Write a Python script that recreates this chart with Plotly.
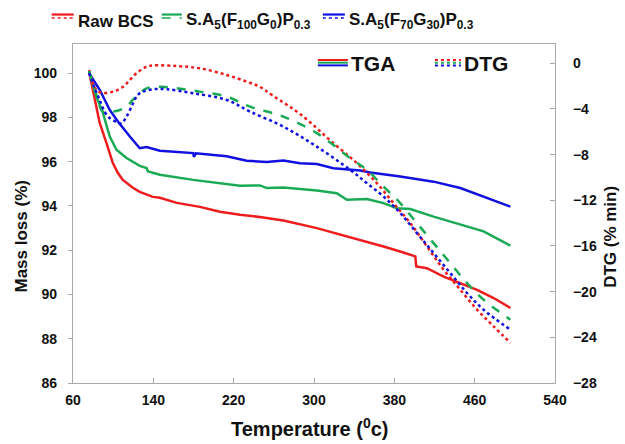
import plotly.graph_objects as go

# ---------------- data ----------------
# TGA (mass loss %, left axis)
tga_raw_T = [76, 81.6, 86.6, 93.3, 99.6, 104.6, 109.6, 119.6, 126.5, 139.5, 146.5, 163.4, 186.4, 206.3, 226.3, 246.2,
             269.5, 302.8, 336.1, 352.7, 369.2, 385.9, 400.9, 401.8, 412.5, 429.1, 445.7, 462.4, 478.9, 495.6]
tga_raw_M = [100.07, 98.8, 97.75, 96.85, 95.95, 95.5, 95.18, 94.82, 94.64, 94.41, 94.37, 94.14, 93.96, 93.74, 93.6, 93.5,
             93.34, 93.0, 92.59, 92.39, 92.17, 91.94, 91.72, 91.27, 91.19, 90.81, 90.51, 90.21, 89.84, 89.39]

tga_g0_T = [76, 83.3, 89.9, 96.6, 103.3, 113.3, 126.5, 133.2, 134.8, 146.5, 179.7, 213, 226.3, 246.2, 252.9, 269.5,
            302.8, 322.7, 332.7, 352.7, 369.2, 382.6, 395.9, 419.1, 442.4, 468.9, 495.6]
tga_g0_M = [100.07, 98.94, 98.2, 97.14, 96.54, 96.17, 95.81, 95.71, 95.56, 95.41, 95.18, 95.0, 94.91, 94.93, 94.81, 94.83,
            94.7, 94.58, 94.28, 94.31, 94.13, 93.9, 93.86, 93.52, 93.22, 92.85, 92.21]

tga_g30_T = [76, 86.6, 96.6, 104.9, 116.6, 126.5, 133.2, 146.5, 179.7, 180.4, 182.4, 213, 233, 246.2, 252.9, 269.5,
             286.1, 302.8, 319.4, 346, 356, 385.9, 419.1, 445.7, 468.9, 495.6]
tga_g30_M = [100.0, 99.25, 98.34, 97.81, 97.14, 96.61, 96.66, 96.5, 96.39, 96.22, 96.38, 96.25, 96.04, 95.99, 95.99, 96.05,
             95.93, 95.9, 95.71, 95.6, 95.51, 95.33, 95.1, 94.81, 94.43, 93.97]

# DTG (% min, right axis)
dtg_raw_T = [76, 83.3, 89.9, 99.9, 109.9, 116.6, 123.2, 133.2, 139.8, 163.1, 186.4, 213, 233, 246.2, 259.5, 286.1,
             319.4, 342.7, 362.6, 379.2, 395.9, 412.5, 429.1, 445.7, 462.4, 478.9, 495.6]
dtg_raw_D = [-0.59, -2.34, -2.6, -2.48, -2.05, -1.46, -0.87, -0.3, -0.19, -0.24, -0.44, -1.02, -1.61, -2.07, -2.86, -4.44,
             -7.0, -8.75, -10.5, -12.25, -14.0, -16.05, -18.08, -19.83, -21.58, -23.04, -24.5]

dtg_g0_T = [76, 83.3, 89.9, 99.9, 106.6, 113.3, 119.6, 126.5, 133.2, 146.5, 163.1, 186.4, 213, 236.3, 269.5, 302.8,
            336.1, 352.7, 369.2, 385.9, 402.5, 419.1, 435.7, 452.4, 468.9, 495.6]
dtg_g0_D = [-0.67, -2.77, -4.26, -4.23, -4.09, -3.8, -3.21, -2.62, -2.19, -2.05, -2.19, -2.48, -2.92, -3.8, -4.67, -6.12,
            -8.31, -9.34, -10.8, -12.25, -14.0, -15.75, -17.5, -19.25, -20.71, -22.46]

dtg_g30_T = [76, 81.6, 86.6, 91.6, 96.6, 103.3, 108.3, 113.3, 119.9, 124.5, 129.8, 139.8, 153.2, 179.7, 213, 236.3,
             269.5, 302.8, 336.1, 352.7, 369.2, 385.9, 402.5, 419.1, 435.7, 452.4, 468.9, 495.6]
dtg_g30_D = [-0.85, -2.16, -3.21, -4.26, -4.79, -5.14, -5.25, -4.67, -3.5, -2.77, -2.48, -2.27, -2.27, -2.62, -3.21, -4.23,
             -5.55, -7.3, -9.34, -10.5, -11.67, -13.12, -14.87, -16.62, -18.37, -20.12, -21.58, -23.33]

x_ticks = [60, 140, 220, 300, 380, 460, 540]
y_left_ticks = [86, 88, 90, 92, 94, 96, 98, 100]
y_right_ticks = [-28, -24, -20, -16, -12, -8, -4, 0]

series_names = ["Raw BCS", "S.A<sub>5</sub>(F<sub>100</sub>G<sub>0</sub>)P<sub>0.3</sub>",
                "S.A<sub>5</sub>(F<sub>70</sub>G<sub>30</sub>)P<sub>0.3</sub>"]

# ---------------- style ----------------
RED = "#ee1c1c"
GREEN = "#1aaa55"
BLUE = "#1010e0"
AX = "#a8a8a8"
W, H = 625, 444
L, R, T, B = 73.3, 555.0, 44.0, 383.3  # plot area in pixels


def px(x):
    return (x - L) / (R - L)


def py(y):
    return (B - y) / (B - T)


fig = go.Figure()
lw = 2.5
fig.add_trace(go.Scatter(x=tga_raw_T, y=tga_raw_M, mode="lines", line=dict(color=RED, width=lw), yaxis="y"))
fig.add_trace(go.Scatter(x=tga_g0_T, y=tga_g0_M, mode="lines", line=dict(color=GREEN, width=lw), yaxis="y"))
fig.add_trace(go.Scatter(x=tga_g30_T, y=tga_g30_M, mode="lines", line=dict(color=BLUE, width=lw), yaxis="y"))
fig.add_trace(go.Scatter(x=dtg_raw_T, y=dtg_raw_D, mode="lines", line=dict(color=RED, width=lw, dash="dot", shape="spline"), yaxis="y2"))
fig.add_trace(go.Scatter(x=dtg_g0_T, y=dtg_g0_D, mode="lines", line=dict(color=GREEN, width=lw, dash="dash", shape="spline"), yaxis="y2"))
fig.add_trace(go.Scatter(x=dtg_g30_T, y=dtg_g30_D, mode="lines", line=dict(color=BLUE, width=lw, dash="dot", shape="spline"), yaxis="y2"))

tickfont = dict(family="Arial, Liberation Sans", size=14, color="#111111", weight="bold")

fig.update_layout(
    width=W, height=H,
    margin=dict(l=L, r=W - R, t=T, b=H - B, pad=0, autoexpand=False),
    paper_bgcolor="white", plot_bgcolor="white",
    showlegend=False,
    xaxis=dict(range=[60, 540], tickvals=x_ticks, showgrid=False, zeroline=False,
               showline=True, linecolor=AX, linewidth=1.3, mirror=True,
               ticks="inside", ticklen=5, tickcolor=AX, tickfont=tickfont, ticklabelstandoff=4),
    yaxis=dict(range=[86, 101.32], tickvals=y_left_ticks, showgrid=False, zeroline=False,
               showline=True, linecolor=AX, linewidth=1.3, mirror=True,
               ticks="outside", ticklen=4, tickcolor=AX, tickfont=tickfont, ticklabelstandoff=8),
    yaxis2=dict(range=[-28, 1.69], tickvals=y_right_ticks, overlaying="y", side="right",
                showgrid=False, zeroline=False, showline=True, linecolor=AX, linewidth=1.3,
                ticks="inside", ticklen=5, tickcolor=AX, tickfont=tickfont, ticklabelstandoff=14),
)

font_b = dict(family="Arial, Liberation Sans", color="#111111", weight="bold")

# axis titles
fig.add_annotation(x=px(310), y=py(428), xref="paper", yref="paper", text="Temperature (<sup>0</sup>c)",
                   showarrow=False, font=dict(size=20, **font_b), xanchor="center", yanchor="middle")
fig.add_annotation(x=px(22), y=py(237), xref="paper", yref="paper", text="Mass loss (%)", textangle=-90,
                   showarrow=False, font=dict(size=17, **font_b), xanchor="center", yanchor="middle")
fig.add_annotation(x=px(611), y=py(237), xref="paper", yref="paper", text="DTG (% min)", textangle=-90,
                   showarrow=False, font=dict(size=17, **font_b), xanchor="center", yanchor="middle")

# top legend
legend_items = [
    (series_names[0], RED, "dot", 52, 74, 76),
    (series_names[1], GREEN, "dash", 162, 182, 184),
    (series_names[2], BLUE, "dot", 323, 345, 347),
]
for name, col, dsh, x0, x1, tx in legend_items:
    fig.add_shape(type="line", xref="paper", yref="paper", x0=px(x0), x1=px(x1), y0=py(14.5), y1=py(14.5),
                  line=dict(color=col, width=2.2))
    fig.add_shape(type="line", xref="paper", yref="paper", x0=px(x0), x1=px(x1), y0=py(18), y1=py(18),
                  line=dict(color=col, width=1.6, dash=dsh))
    fig.add_annotation(x=px(tx), y=py(21), xref="paper", yref="paper", text="<b>" + name + "</b>",
                       showarrow=False, font=dict(size=17, **font_b), xanchor="left", yanchor="middle")

# in-plot legend (TGA / DTG)
for i, col in enumerate([RED, GREEN, BLUE]):
    yy = 60 + i * 2.7
    fig.add_shape(type="line", xref="paper", yref="paper", x0=px(318), x1=px(348), y0=py(yy), y1=py(yy),
                  line=dict(color=col, width=2))
    fig.add_shape(type="line", xref="paper", yref="paper", x0=px(435), x1=px(461), y0=py(yy), y1=py(yy),
                  line=dict(color=col, width=2, dash="dot"))
fig.add_annotation(x=px(349), y=py(64), xref="paper", yref="paper", text="TGA", showarrow=False,
                   font=dict(size=21, **font_b), xanchor="left", yanchor="middle")
fig.add_annotation(x=px(462), y=py(64), xref="paper", yref="paper", text="DTG", showarrow=False,
                   font=dict(size=21, **font_b), xanchor="left", yanchor="middle")

fig.write_html("out.html", config={"displayModeBar": False},
               post_script="document.body.style.margin='0px';document.body.style.padding='0px';")
